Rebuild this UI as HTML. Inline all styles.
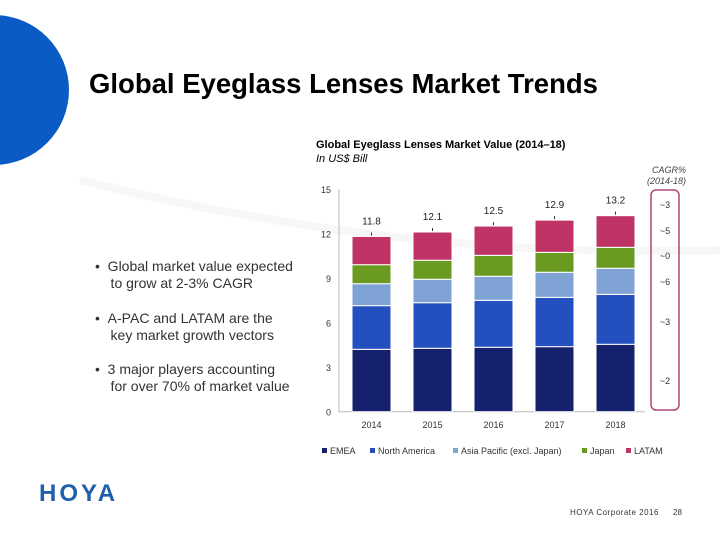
<!DOCTYPE html>
<html><head><meta charset="utf-8"><style>
body{margin:0;width:720px;height:540px;overflow:hidden;background:#fff;font-family:"Liberation Sans",sans-serif;position:relative}
.a{position:absolute;white-space:nowrap}
</style></head><body>
<svg class="a" style="left:0;top:0" width="720" height="540">
<path d="M80 180 Q400 260 720 250" stroke="#f7f7f7" stroke-width="8" fill="none"/>
<circle cx="-6" cy="90" r="75" fill="#0a5cc4"/>
</svg>
<div class="a" style="left:89px;top:68px;font-size:27.5px;font-weight:bold;color:#000">Global Eyeglass Lenses Market Trends</div>
<div class="a" style="left:316px;top:139px;font-size:11px;font-weight:bold;color:#000">Global Eyeglass Lenses Market Value (2014–18)</div>
<div class="a" style="left:316px;top:153px;font-size:11px;font-style:italic;color:#000">In US$ Bill</div>
<div class="a" style="left:630px;top:165px;width:56px;text-align:right;font-size:9px;font-style:italic;color:#444;line-height:11px">CAGR%<br>(2014-18)</div>
<div class="a" style="left:95px;top:258px;font-size:14px;color:#333;line-height:17px">•&nbsp;&nbsp;Global market value expected<br>&nbsp;&nbsp;&nbsp;&nbsp;to grow at 2-3% CAGR</div>
<div class="a" style="left:95px;top:310px;font-size:14px;color:#333;line-height:17px">•&nbsp;&nbsp;A-PAC and LATAM are the<br>&nbsp;&nbsp;&nbsp;&nbsp;key market growth vectors</div>
<div class="a" style="left:95px;top:361px;font-size:14px;color:#333;line-height:17px">•&nbsp;&nbsp;3 major players accounting<br>&nbsp;&nbsp;&nbsp;&nbsp;for over 70% of market value</div>
<svg id="chart" class="a" style="left:0;top:0" width="720" height="540"></svg>
<div class="a" style="left:39px;top:480px;font-size:24px;font-weight:bold;color:#1f5fae;letter-spacing:3px">HOYA</div>
<div class="a" style="left:570px;top:508px;font-size:8px;color:#333;letter-spacing:0.5px">HOYA Corporate 2016</div>
<div class="a" style="left:673px;top:508px;font-size:8px;color:#333">28</div>
<script>
const categories=["2014","2015","2016","2017","2018"];
const seriesNames=["EMEA","North America","Asia Pacific (excl. Japan)","Japan","LATAM"];
const emea=[4.2,4.27,4.34,4.38,4.54];
const northAmerica=[2.94,3.07,3.16,3.32,3.36];
const asiaPacific=[1.48,1.58,1.62,1.69,1.76];
const japan=[1.28,1.28,1.41,1.34,1.41];
const latam=[1.9,1.9,1.97,2.17,2.13];
const totals=["11.8","12.1","12.5","12.9","13.2"];
const yTicks=[0,3,6,9,12,15];
const cagr=["~3","~5","~0","~6","~3","~2"];
const colors=["#16216e","#2350be","#7fa3d4","#6a9a1f","#bf3366"];
const NS="http://www.w3.org/2000/svg";
const svg=document.getElementById("chart");
const x0=341,step=61,bw=39,y0=411.7,ppu=14.85;
const X=i=>x0+step/2+i*step, Y=v=>y0-v*ppu;
function mk(t,a){const e=document.createElementNS(NS,t);for(const k in a)e.setAttribute(k,a[k]);svg.appendChild(e);return e;}
let e=mk("line",{x1:339,y1:Y(15),x2:339,y2:y0,stroke:"#bbb"});

e=mk("line",{x1:339,y1:y0,x2:645,y2:y0,stroke:"#bbb"});

yTicks.forEach(t=>{const l=mk("text",{x:331,y:Y(t)+4,"text-anchor":"end","font-size":9,fill:"#333"});l.textContent=t;
});
const series=[emea,northAmerica,asiaPacific,japan,latam];
categories.forEach((c,i)=>{let base=0;
series.forEach((s,k)=>{const v=s[i];const r=mk("rect",{x:X(i)-bw/2,y:Y(base+v),width:bw,height:v*ppu,fill:colors[k],stroke:"#fff","stroke-width":1});
base+=v;});
const ld=mk("line",{x1:X(i),y1:Y(base)-1,x2:X(i),y2:Y(base)-4,stroke:"#333"});

const t=mk("text",{x:X(i),y:Y(base)-12,"text-anchor":"middle","font-size":10,fill:"#222"});t.textContent=totals[i];

const xl=mk("text",{x:X(i),y:428,"text-anchor":"middle","font-size":9,fill:"#333"});xl.textContent=c;
});
e=mk("rect",{x:651,y:190,width:28,height:220,rx:5,fill:"none",stroke:"#b0457a","stroke-width":1.5});

const cy=[208,234,259,285,325,384];
cagr.forEach((c,i)=>{const t=mk("text",{x:665,y:cy[i],"text-anchor":"middle","font-size":9,fill:"#333"});t.textContent=c;
});
const lx=[322,370,453,582,626];
seriesNames.forEach((n,k)=>{const r=mk("rect",{x:lx[k],y:448,width:5,height:5,fill:colors[k]});

const t=mk("text",{x:lx[k]+8,y:454,"font-size":9,fill:"#333"});t.textContent=n;
});
</script>
</body></html>
